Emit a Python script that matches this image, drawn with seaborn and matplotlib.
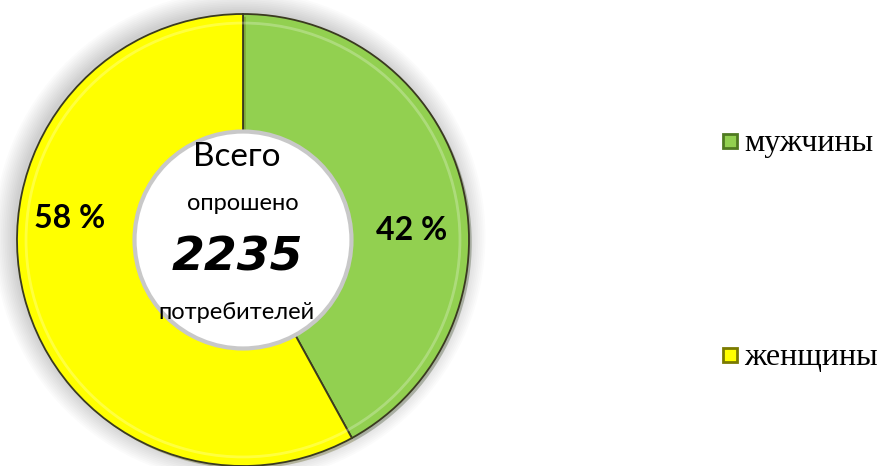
import matplotlib
matplotlib.use("Agg")
import matplotlib.pyplot as plt
import matplotlib.patheffects as pe
import seaborn as sns

# data
groups = ["мужчины", "женщины"]
shares = [42, 58]
colors = ["#92D050", "#FFFF00"]
edges = ["#4F7A21", "#7A7A00"]
total = 2235
center_lines = ["Всего", "опрошено", str(total), "потребителей"]

sns.set_theme(style="white")
plt.rcParams['font.family'] = ['Lato', 'DejaVu Sans']

W, H = 883, 466
R = 226.0          # outer radius in px
cx, cy = 243, 240  # centre in px from top-left

fig = plt.figure(figsize=(W / 100, H / 100), dpi=100)
ax = fig.add_axes([0, 0, 1, 1])
ax.set_aspect("equal")
ax.axis("off")

# soft grey shadow around the ring
for i in range(12):
    ax.add_patch(plt.Circle((-0.015, 0.015), 1.0 + 0.008 * i, color="black",
                            alpha=0.016, lw=0, zorder=0))

wedges, _ = ax.pie(shares, colors=colors, startangle=90, counterclock=False,
                   radius=1.0,
                   wedgeprops=dict(width=0.52, edgecolor="#3a3a20", linewidth=1.3))
for w in wedges:
    w.set_zorder(2)
    w.set_path_effects([pe.SimplePatchShadow(offset=(2, -2), alpha=0.3), pe.Normal()])

# light bevel highlight near the outer edge
ax.add_patch(plt.Circle((0, 0), 0.96, fill=False, edgecolor="white", lw=2,
                        alpha=0.25, zorder=3))

# inner hole with faint grey rim
ax.add_patch(plt.Circle((0, 0), 0.48, facecolor="white", edgecolor="#c8c8c8",
                        lw=3, zorder=3))
ax.set_xlim(-cx / R, (W - cx) / R)
ax.set_ylim(-(H - cy) / R, cy / R)

# percent labels
ax.text(0.748, 0.044, f"{shares[0]} %", ha="center", va="center",
        fontsize=23, fontweight="bold", color="black", zorder=5)
ax.text(-0.765, 0.097, f"{shares[1]} %", ha="center", va="center",
        fontsize=23, fontweight="bold", color="black", zorder=5)

# center text
ax.text(-0.027, 0.367, center_lines[0], ha="center", va="center", fontsize=24,
        color="black", zorder=5)
ax.text(0.0, 0.16, center_lines[1], ha="center", va="center", fontsize=17,
        color="black", zorder=5)
ax.text(-0.027, -0.08, center_lines[2], ha="center", va="center", fontsize=34,
        fontweight="bold", fontstyle="italic", family=['DejaVu Sans'],
        color="black", zorder=5)
ax.text(-0.027, -0.323, center_lines[3], ha="center", va="center", fontsize=17,
        color="black", zorder=5)

# legend
leg_y = [141, 355]
for g, c, e, y in zip(groups, colors, edges, leg_y):
    fig.patches.append(plt.Rectangle((723 / W, (H - y - 7) / H), 14 / W, 14 / H,
                                     transform=fig.transFigure, facecolor=c,
                                     edgecolor=e, linewidth=2))
    fig.text(744 / W, (H - y - 2) / H, g, ha="left", va="center", fontsize=23,
             family=['Liberation Serif'], color="black")

fig.savefig("out.png", dpi=100)
